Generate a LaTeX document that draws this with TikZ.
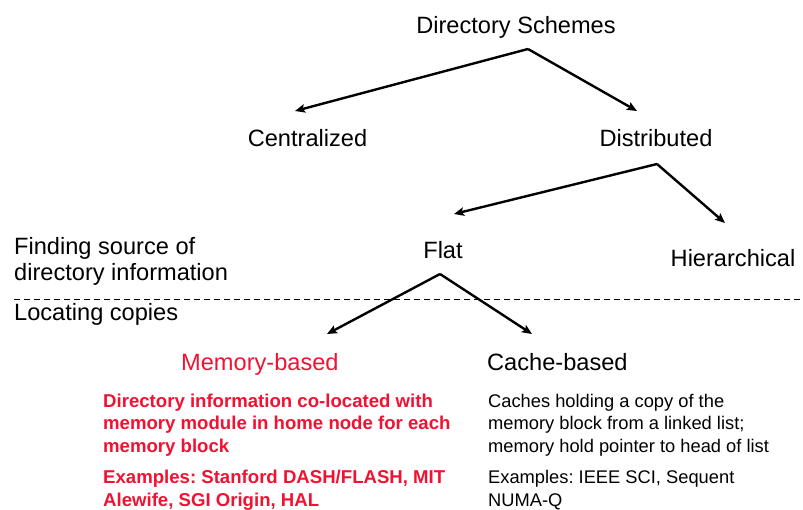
\documentclass[tikz,border=0pt]{standalone}
\usepackage{fontspec}
\setmainfont{Liberation Sans}
\usetikzlibrary{arrows.meta}
\frenchspacing
\definecolor{hotred}{RGB}{240,18,50}
\tikzset{
  big/.style={inner sep=0pt, font=\fontsize{23.6}{27}\selectfont},
  small/.style={inner sep=0pt, align=left, font=\fontsize{18.3}{22.5}\selectfont},
  smallbold/.style={small, text=hotred, font=\fontsize{18.6}{22.5}\selectfont\bfseries},
  branch/.style={line width=2.4pt, -{Stealth[length=10pt,width=8.5pt,inset=2pt]}},
  divider/.style={line width=0.9pt, dash pattern=on 6pt off 4pt}
}
\begin{document}
\begin{tikzpicture}[x=1pt,y=-1pt]
\useasboundingbox (0,0) rectangle (803,509);

% tree labels
\node[big, anchor=base] (ds)   at (516,33)  {Directory Schemes};
\node[big, anchor=base] (cen)  at (307.5,146) {Centralized};
\node[big, anchor=base] (dist) at (656,146) {Distributed};
\node[big, anchor=base] (flat) at (443,258) {Flat};
\node[big, anchor=base] (hier) at (733,266) {Hierarchical};

% side captions (base anchor sits on the last line)
\node[big, anchor=base west, align=left] (find) at (14,280) {Finding source of\\[-1pt]directory information};
\node[big, anchor=base west] (loc) at (14,320) {Locating copies};

% dividing line between the two questions
\coordinate (divl) at (14,299);
\coordinate (divr) at (803,299);
\draw[divider] (divl) -- (divr);

% leaves
\node[big, anchor=base west, text=hotred] (mem) at (181,370) {Memory-based};
\node[big, anchor=base west] (cache) at (487,370) {Cache-based};

\node[smallbold, anchor=base west] (memtxt) at (103,452)
  {Directory information co-located with\\memory module in home node for each\\memory block};
\node[smallbold, anchor=base west] (memex) at (103,506)
  {Examples: Stanford DASH/FLASH, MIT\\Alewife, SGI Origin, HAL};
\node[small, anchor=base west] (cachetxt) at (488,452)
  {Caches holding a copy of the\\memory block from a linked list;\\memory hold pointer to head of list};
\node[small, anchor=base west] (cacheex) at (488,506)
  {Examples: IEEE SCI, Sequent\\NUMA-Q};

% branch points and arrow ends
\coordinate (dsapex)   at (528,49);
\coordinate (cenend)   at (295,111);
\coordinate (distend)  at (637,111);
\coordinate (distapex) at (657,164);
\coordinate (flatend)  at (454,214);
\coordinate (hierend)  at (725,223);
\coordinate (flatapex) at (440,274);
\coordinate (memend)   at (327,334);
\coordinate (cacheend) at (532,334);

\draw[branch] (dsapex) -- (cenend);
\draw[branch] (dsapex) -- (distend);
\draw[branch] (distapex) -- (flatend);
\draw[branch] (distapex) -- (hierend);
\draw[branch] (flatapex) -- (memend);
\draw[branch] (flatapex) -- (cacheend);
\end{tikzpicture}
\end{document}
